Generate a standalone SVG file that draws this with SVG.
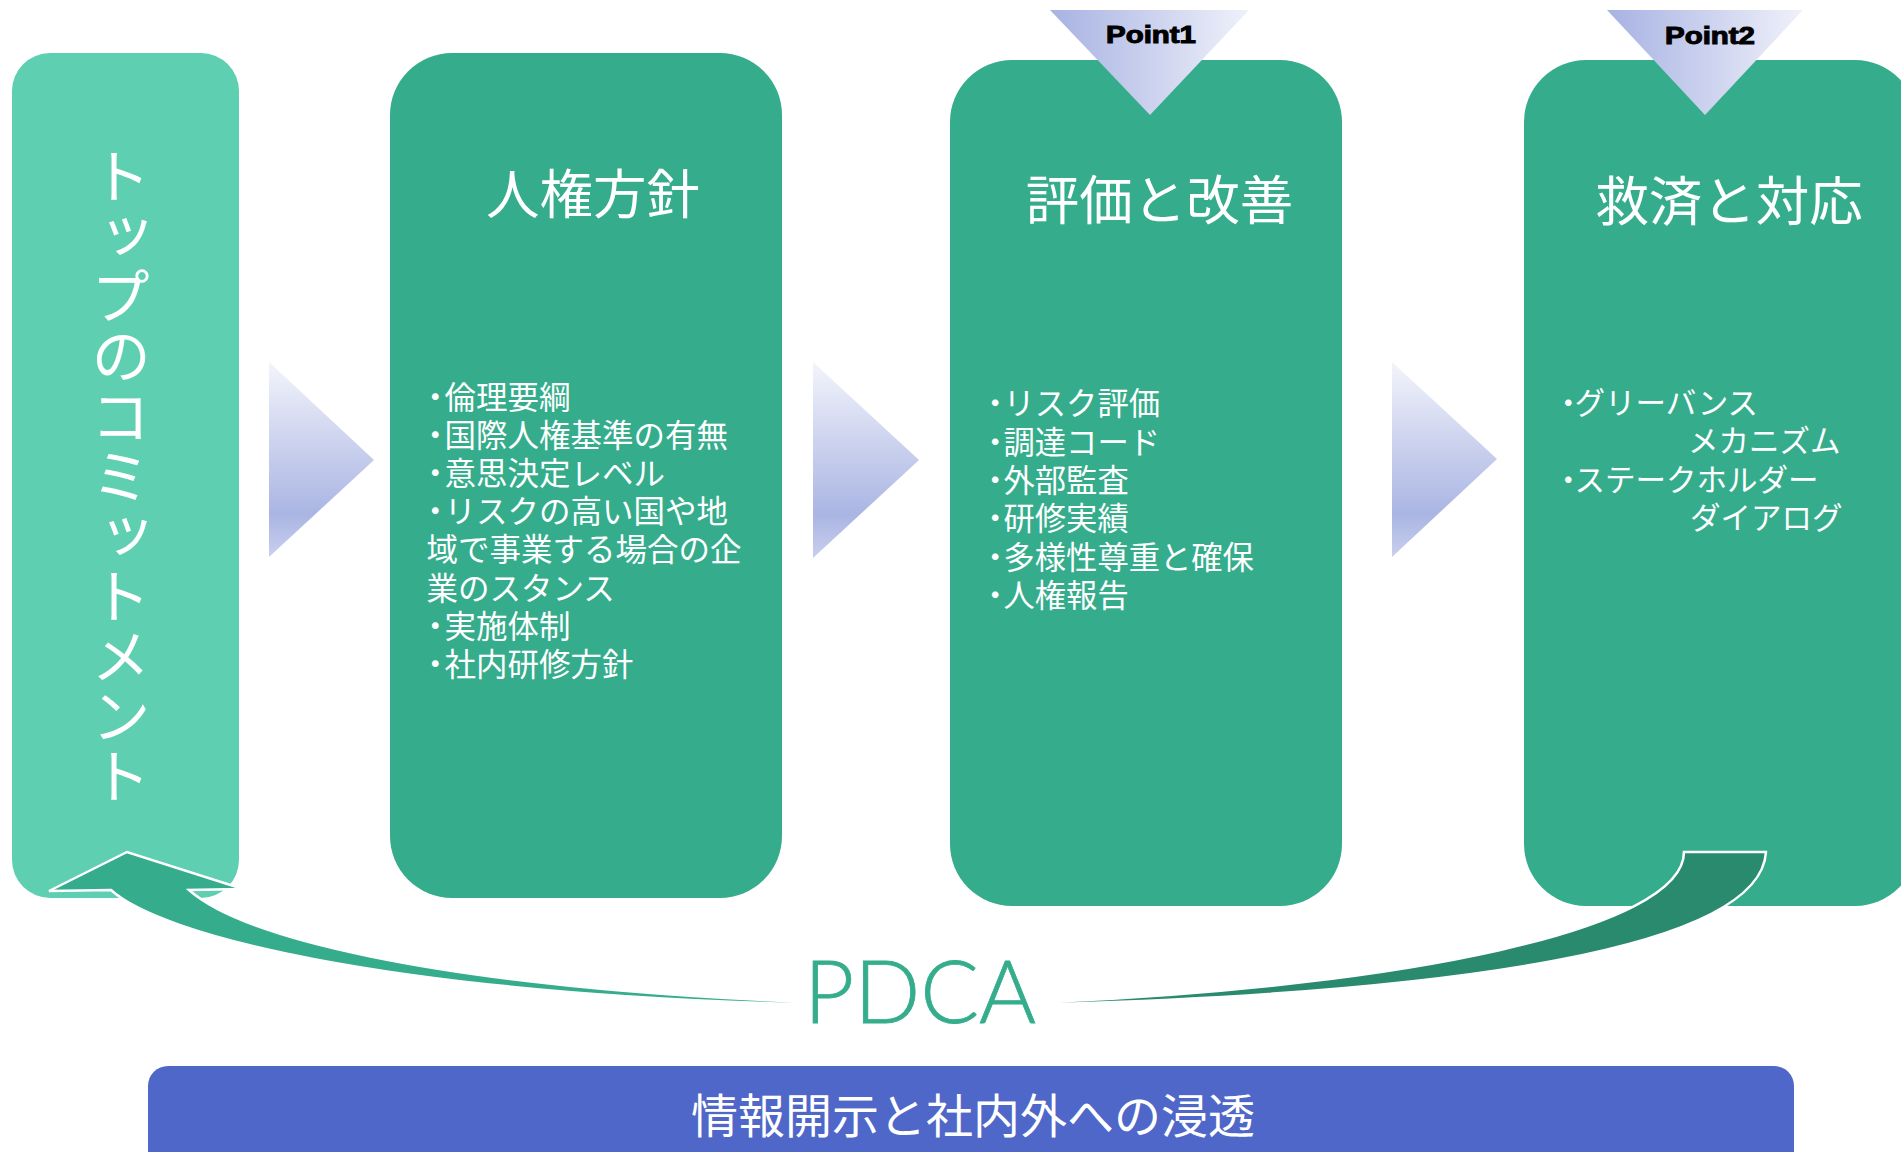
<svg xmlns="http://www.w3.org/2000/svg" width="1901" height="1152" viewBox="0 0 1901 1152">
  <defs>
    <linearGradient id="gArrow" x1="0" y1="0" x2="0" y2="1">
      <stop offset="0" stop-color="#F3F4FB"/>
      <stop offset="0.78" stop-color="#AAB5E3"/>
      <stop offset="1" stop-color="#C9CFEE"/>
    </linearGradient>
    <linearGradient id="gPoint" x1="0" y1="0" x2="1" y2="0">
      <stop offset="0" stop-color="#A7B2E2"/>
      <stop offset="1" stop-color="#EFF1FA"/>
    </linearGradient>
    <style>
      .box { fill: #35AD8C; }
      .jp { font-family: "Noto Sans CJK JP", sans-serif; fill: #FFFFFF; }
      .title { font-size: 53.5px; text-anchor: middle; }
      .body2 { font-size: 31.5px; }
      .body3 { font-size: 31.3px; }
      .body4 { font-size: 30.5px; }
      .d2 { letter-spacing: -6.5px; }
      .d3 { letter-spacing: -7.2px; }
      .d4 { letter-spacing: -9px; }
      .pt { font-family: "Liberation Sans", Arial, sans-serif; font-weight: bold; font-size: 23px; fill: #000000; stroke: #000000; stroke-width: 1; text-anchor: middle; }
      .tri { fill: url(#gArrow); }
      .ptri { fill: url(#gPoint); }
    </style>
  </defs>

  <rect width="1901" height="1152" fill="#FFFFFF"/>

  <g id="node-commitment">
    <rect x="12" y="53" width="227" height="845" rx="38" ry="38" fill="#5ECFB1"/>
    <text class="jp" x="121" y="476" font-size="60" text-anchor="middle" style="writing-mode: vertical-rl;">トップのコミットメント</text>
  </g>

  <g id="node-policy">
    <rect class="box" x="390" y="53" width="392" height="845" rx="62" ry="62"/>
    <text class="jp title" x="593" y="214">人権方針</text>
    <text class="jp body2">
      <tspan x="419.5" y="409"><tspan class="d2">・</tspan>倫理要綱</tspan>
      <tspan x="419.5" y="447.1"><tspan class="d2">・</tspan>国際人権基準の有無</tspan>
      <tspan x="419.5" y="485.2"><tspan class="d2">・</tspan>意思決定レベル</tspan>
      <tspan x="419.5" y="523.3"><tspan class="d2">・</tspan>リスクの高い国や地</tspan>
      <tspan x="426.5" y="561.4">域で事業する場合の企</tspan>
      <tspan x="426.5" y="599.5">業のスタンス</tspan>
      <tspan x="419.5" y="637.6"><tspan class="d2">・</tspan>実施体制</tspan>
      <tspan x="419.5" y="675.7"><tspan class="d2">・</tspan>社内研修方針</tspan>
    </text>
  </g>

  <g id="node-evaluation">
    <rect class="box" x="950" y="60" width="392" height="846" rx="62" ry="62"/>
    <polygon class="ptri" points="1050,10 1249,10 1150,115"/>
    <text class="pt" x="1151" y="43" textLength="90" lengthAdjust="spacingAndGlyphs">Point1</text>
    <text class="jp title" x="1159.5" y="219.5">評価と改善</text>
    <text class="jp body3">
      <tspan x="979.4" y="415.3"><tspan class="d3">・</tspan>リスク評価</tspan>
      <tspan x="979.4" y="453.6"><tspan class="d3">・</tspan>調達コード</tspan>
      <tspan x="979.4" y="491.9"><tspan class="d3">・</tspan>外部監査</tspan>
      <tspan x="979.4" y="530.2"><tspan class="d3">・</tspan>研修実績</tspan>
      <tspan x="979.4" y="568.5"><tspan class="d3">・</tspan>多様性尊重と確保</tspan>
      <tspan x="979.4" y="606.8"><tspan class="d3">・</tspan>人権報告</tspan>
    </text>
  </g>

  <g id="node-remedy">
    <rect class="box" x="1524" y="60" width="393" height="846" rx="62" ry="62"/>
    <polygon class="ptri" points="1607,10 1803,10 1705,115"/>
    <text class="pt" x="1710" y="44" textLength="90" lengthAdjust="spacingAndGlyphs">Point2</text>
    <text class="jp title" x="1729" y="221">救済と対応</text>
    <text class="jp body4">
      <tspan x="1553" y="414"><tspan class="d4">・</tspan>グリーバンス</tspan>
      <tspan x="1688" y="452">メカニズム</tspan>
      <tspan x="1553" y="490.5"><tspan class="d4">・</tspan>ステークホルダー</tspan>
      <tspan x="1690" y="529">ダイアログ</tspan>
    </text>
  </g>

  <g id="connectors">
    <polygon class="tri" points="269,362 374,460 269,557"/>
    <polygon class="tri" points="813,362 919,460 813,558"/>
    <polygon class="tri" points="1392,362 1497,459 1392,557"/>
    <path d="M49,891 L127,852 L243,889 L189,890 C240,935 420,985 795,1001.5 L795,1004 C380,992 160,935 111,890 Z" fill="#35AD8C" stroke="#FFFFFF" stroke-width="2.5" stroke-linejoin="miter"/>
    <path d="M1684,852 L1766,852 C1760,950 1450,992 1058,1004 L1058,1001.5 C1400,986 1684,930 1684,852 Z" fill="#2A8A6E" stroke="#FFFFFF" stroke-width="2.5"/>
  </g>

  <g id="label-pdca">
    <text x="920" y="1023" font-family="Lato, 'Liberation Sans', sans-serif" font-weight="300" font-size="87" fill="#35AD8C" stroke="#35AD8C" stroke-width="0.8" text-anchor="middle">PDCA</text>
  </g>

  <g id="node-disclosure">
    <rect x="148" y="1066" width="1646" height="110" rx="20" ry="20" fill="#4F67C8"/>
    <text class="jp" x="973" y="1133.4" font-size="47" text-anchor="middle">情報開示と社内外への浸透</text>
  </g>
</svg>
